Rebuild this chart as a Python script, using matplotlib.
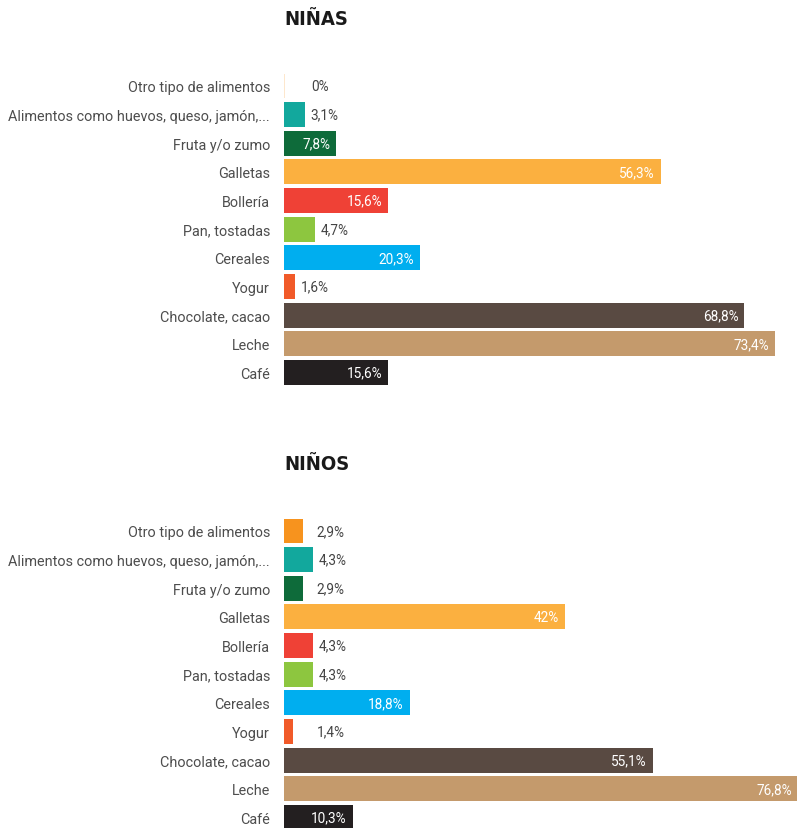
import matplotlib
matplotlib.use("Agg")
import matplotlib.pyplot as plt

categories = [
    "Otro tipo de alimentos",
    "Alimentos como huevos, queso, jamón,...",
    "Fruta y/o zumo",
    "Galletas",
    "Bollería",
    "Pan, tostadas",
    "Cereales",
    "Yogur",
    "Chocolate, cacao",
    "Leche",
    "Café",
]
ninas_values = [0, 3.1, 7.8, 56.3, 15.6, 4.7, 20.3, 1.6, 68.8, 73.4, 15.6]
ninos_values = [2.9, 4.3, 2.9, 42, 4.3, 4.3, 18.8, 1.4, 55.1, 76.8, 10.3]
bar_colors = ["#F7931E", "#12A89D", "#0E6B3A", "#FBB040", "#EF4136", "#8DC63F",
              "#00AEEF", "#F15A29", "#594A42", "#C49A6C", "#231F20"]
panel_titles = ["NIÑAS", "NIÑOS"]

W, H = 797, 829
fig = plt.figure(figsize=(W / 100, H / 100), dpi=100)
FONT = "Roboto"

def px_axes(left, top, width, height):
    return fig.add_axes([left / W, 1 - (top + height) / H, width / W, height / H])

row = 28.65
x_left, x_width = 284, 513
xmax = x_width / 6.69

def fmt(v):
    s = ("%.1f" % v).rstrip("0").rstrip(".")
    return s.replace(".", ",") + "%"

def draw_panel(values, first_center, title, out_floor):
    top = first_center - row / 2
    ax = px_axes(x_left, top, x_width, row * len(categories))
    ys = list(range(len(categories)))
    ax.barh(ys, values, height=0.87, color=bar_colors, left=0)
    if values[0] == 0:
        # empty category: a faint hairline marks the baseline
        ax.plot([0.05, 0.05], [-0.435, 0.435], color="#FDE3C4", lw=1.2,
                solid_capstyle="butt")
    ax.set_xlim(0, xmax)
    ax.set_ylim(len(categories) - 0.5, -0.5)
    ax.set_yticks(ys)
    ax.set_yticklabels(categories, fontsize=10.4, color="#4d4d4d", family=FONT)
    ax.tick_params(axis="y", length=0, pad=10)
    ax.set_xticks([])
    for s in ax.spines.values():
        s.set_visible(False)
    for y, v in zip(ys, values):
        if v >= 7:
            ax.text(v - 0.9, y, fmt(v), ha="right", va="center", color="white",
                    fontsize=9.8, family=FONT)
        else:
            x = 4.0 if v == 0 else max(v, out_floor) + 0.85
            ax.text(x, y, fmt(v), ha="left", va="center",
                    color="#444444", fontsize=9.8, family=FONT)
    ax.text(0.0, -2.35, title, transform=ax.transData, fontsize=14.5,
            fontweight="black", color="#1a1a1a", family="DejaVu Sans",
            fontstretch="condensed", ha="left", va="center")
    return ax

draw_panel(ninas_values, 87, panel_titles[0], 0)
draw_panel(ninos_values, 532, panel_titles[1], 4.0)

fig.savefig("out.png", dpi=100)
